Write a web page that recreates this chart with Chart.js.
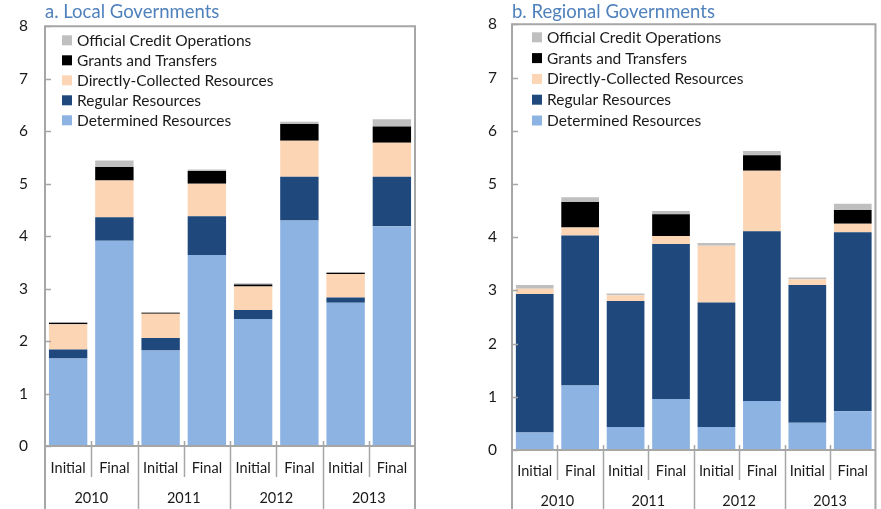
<!DOCTYPE html>
<html>
<head>
<meta charset="utf-8">
<script src="https://cdn.jsdelivr.net/npm/chart.js@4.4.1/dist/chart.umd.min.js"></script>
<style>
  html, body { margin: 0; padding: 0; background: #fff; }
  body { width: 881px; height: 509px; position: relative; overflow: hidden; }
  canvas { position: absolute; top: 0; }
  #c1 { left: 0; }
  #c2 { left: 440px; }
</style>
</head>
<body>
<canvas id="c1" width="440" height="509"></canvas>
<canvas id="c2" width="441" height="509"></canvas>
<script>
// ---- Data ----
const categories = ['Initial','Final','Initial','Final','Initial','Final','Initial','Final'];
const years = ['2010','2011','2012','2013'];
const seriesNames = ['Determined Resources','Regular Resources','Directly-Collected Resources','Grants and Transfers','Official Credit Operations'];
const yTicks = [0,1,2,3,4,5,6,7,8];

// a. Local Governments
const localDetermined = [1.67, 3.91, 1.82, 3.64, 2.42, 4.30, 2.73, 4.19];
const localRegular    = [0.17, 0.45, 0.24, 0.74, 0.17, 0.83, 0.10, 0.94];
const localDirect     = [0.48, 0.70, 0.46, 0.62, 0.45, 0.69, 0.45, 0.65];
const localGrants     = [0.03, 0.26, 0.02, 0.24, 0.04, 0.32, 0.02, 0.31];
const localOfficial   = [0.01, 0.12, 0.01, 0.03, 0.02, 0.04, 0.01, 0.14];

// b. Regional Governments
const regDetermined = [0.33, 1.21, 0.43, 0.96, 0.43, 0.92, 0.51, 0.73];
const regRegular    = [2.60, 2.82, 2.37, 2.91, 2.34, 3.19, 2.59, 3.36];
const regDirect     = [0.10, 0.15, 0.11, 0.15, 1.07, 1.14, 0.11, 0.16];
const regGrants     = [0.00, 0.48, 0.00, 0.41, 0.00, 0.29, 0.00, 0.26];
const regOfficial   = [0.07, 0.09, 0.03, 0.06, 0.05, 0.08, 0.03, 0.12];

// ---- Styles ----
const colors = ['#8db3e2', '#1f497d', '#fcd5b4', '#000000', '#bfbfbf'];
const FONT = 'Lato, "Noto Sans", sans-serif';
const TEXT = '#1a1a1a';
const GRID = '#a6a6a6';

function decorPlugin(cfg) {
  return {
    id: 'decor',
    afterDraw(chart) {
      const ctx = chart.ctx;
      const a = chart.chartArea;
      const H = chart.height;
      const xs = chart.scales.x;
      const ys = chart.scales.y;
      ctx.save();
      // title
      ctx.font = '18.5px ' + FONT;
      ctx.fillStyle = '#4f81bd';
      ctx.textAlign = 'left';
      ctx.textBaseline = 'middle';
      ctx.fillText(cfg.title, a.left, 12);

      // frame
      ctx.strokeStyle = GRID;
      ctx.lineWidth = 2;
      ctx.beginPath();
      ctx.moveTo(a.left, H); ctx.lineTo(a.left, a.top);
      ctx.lineTo(a.right, a.top); ctx.lineTo(a.right, H);
      ctx.moveTo(a.left, a.bottom); ctx.lineTo(a.right, a.bottom);
      ctx.stroke();

      // y inward ticks
      ctx.lineWidth = 1.5;
      ctx.beginPath();
      yTicks.forEach(v => {
        const y = Math.round(ys.getPixelForValue(v)) + 0.5;
        ctx.moveTo(a.left, y); ctx.lineTo(a.left + 6, y);
      });
      ctx.stroke();

      // category separators
      const n = categories.length;
      const step = (a.right - a.left) / n;
      ctx.lineWidth = 1.5;
      ctx.beginPath();
      for (let i = 1; i < n; i++) {
        const x = Math.round(xs.getPixelForValue(i) - step / 2) + 0.5;
        const yEnd = (i % 2 === 0) ? H : a.bottom + cfg.row1;
        ctx.moveTo(x, a.bottom - 5); ctx.lineTo(x, yEnd);
      }
      ctx.stroke();

      // legend (reverse order)
      ctx.font = '15.5px ' + FONT;
      ctx.textBaseline = 'middle';
      for (let k = 0; k < seriesNames.length; k++) {
        const idx = seriesNames.length - 1 - k;
        const yc = a.top + cfg.legTop + k * cfg.legStep;
        ctx.fillStyle = chart.data.datasets[idx].backgroundColor;
        ctx.fillRect(a.left + cfg.boxX, yc - 5, 10, 10);
        ctx.fillStyle = TEXT;
        ctx.fillText(chart.data.datasets[idx].label, a.left + cfg.textX, yc + 0.5);
      }
      ctx.restore();
    }
  };
}

function makeChart(id, arrays, cfg) {
  const datasets = arrays.map((arr, i) => ({
    label: seriesNames[i],
    data: arr,
    backgroundColor: colors[i],
    borderWidth: 0,
    barPercentage: 0.83,
    categoryPercentage: 1.0,
    xAxisID: 'x',
    yAxisID: 'y'
  }));
  return new Chart(document.getElementById(id), {
    type: 'bar',
    data: { labels: categories, datasets },
    options: {
      responsive: false,
      animation: false,
      devicePixelRatio: 1,
      layout: { padding: { top: 24, right: cfg.padRight, left: 0, bottom: 0 } },
      plugins: { legend: { display: false }, tooltip: { enabled: false }, title: { display: false } },
      scales: {
        x: {
          type: 'category', labels: categories, stacked: true, position: 'bottom',
          grid: { display: false, drawTicks: false }, border: { display: false },
          ticks: { font: { family: FONT, size: 14.5 }, color: TEXT, padding: cfg.pad1, maxRotation: 0, autoSkip: false },
          afterFit: s => { s.height = cfg.row1; }
        },
        x2: {
          type: 'category', labels: years, position: 'bottom',
          grid: { display: false, drawTicks: false }, border: { display: false },
          ticks: { font: { family: FONT, size: 14.5 }, color: TEXT, padding: cfg.pad2, maxRotation: 0, autoSkip: false },
          afterFit: s => { s.height = cfg.row2; }
        },
        y: {
          stacked: true, min: 0, max: 8,
          afterBuildTicks: s => { s.ticks = yTicks.map(v => ({ value: v })); },
          grid: { display: false, drawTicks: false }, border: { display: false },
          ticks: { font: { family: FONT, size: 15.5 }, color: TEXT, padding: cfg.yPad },
          afterFit: s => { s.width = cfg.yWidth; }
        }
      }
    },
    plugins: [decorPlugin(cfg)]
  });
}

makeChart('c1', [localDetermined, localRegular, localDirect, localGrants, localOfficial], {
  title: 'a. Local Governments', padRight: 25, yWidth: 45, yPad: 17,
  row1: 31, row2: 32, pad1: 14, pad2: 13,
  legTop: 14, legStep: 20, boxX: 17, textX: 32
});
makeChart('c2', [regDetermined, regRegular, regDirect, regGrants, regOfficial], {
  title: 'b. Regional Governments', padRight: 1, yWidth: 72, yPad: 15,
  row1: 30, row2: 29, pad1: 13, pad2: 13,
  legTop: 13, legStep: 20.8, boxX: 20, textX: 35
});
</script>
</body>
</html>
